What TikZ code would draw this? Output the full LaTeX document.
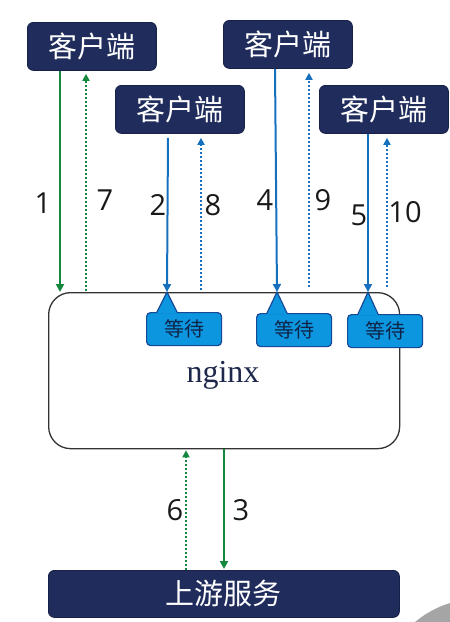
\documentclass[tikz,border=0pt]{standalone}
\usepackage{fontspec}
\setmainfont{Liberation Serif}
\newfontfamily\cjk{Noto Sans CJK SC}
\newfontfamily\numf{Open Sans}
\usetikzlibrary{arrows.meta}
\definecolor{navy}{RGB}{31,44,92}
\definecolor{navyb}{RGB}{22,32,72}
\definecolor{wfill}{RGB}{12,150,224}
\definecolor{wborder}{RGB}{22,72,150}
\definecolor{gline}{RGB}{22,135,62}
\definecolor{bline}{RGB}{22,112,190}
\definecolor{wtext}{RGB}{16,36,72}
\definecolor{ngtext}{RGB}{30,40,75}
\definecolor{artgray}{RGB}{165,165,165}
\begin{document}
\begin{tikzpicture}[x=1pt,y=-1pt,
  client/.style={draw=navyb, fill=navy, rounded corners=6pt, line width=0.8pt,
    minimum width=129pt, minimum height=48pt, inner sep=0pt, anchor=north west,
    text=white, font=\cjk\fontsize{29}{32}\selectfont},
  upstream/.style={client, minimum width=351pt, minimum height=47pt},
  waitbox/.style={draw=wborder, fill=wfill, rounded corners=4pt, line width=1.2pt,
    minimum width=75pt, minimum height=33pt, inner sep=0pt, anchor=north west,
    text=wtext, font=\cjk\fontsize{20}{22}\selectfont},
  ngbox/.style={draw=black!80, line width=1.3pt, rounded corners=22pt,
    minimum width=351pt, minimum height=156pt, inner sep=0pt, anchor=north west},
  lbl/.style={text=black!90, inner sep=0pt, font=\numf\fontsize{29}{32}\selectfont},
  tipa/.style={-{Triangle[width=8pt,length=8pt]}},
  tipb/.style={-{Triangle[width=7pt,length=7pt]}},
  gsolid/.style={draw=gline, line width=2pt, tipa},
  gdot/.style={draw=gline, line width=2pt, dash pattern=on 2pt off 2pt, tipb},
  bsolid/.style={draw=bline, line width=2pt, tipa},
  bdot/.style={draw=bline, line width=2pt, dash pattern=on 2pt off 2pt, tipb}
]
\useasboundingbox (0,0) rectangle (450,622);
\begin{scope}
  \clip (0,0) rectangle (450,622);
  \fill[artgray] (480,700) circle[radius=101.5pt];
\end{scope}

% clients
\node[client] (c1) at (27,22) {客户端};
\node[client] (c2) at (115,85) {客户端};
\node[client] (c3) at (223,20) {客户端};
\node[client] (c4) at (319,85) {客户端};

% nginx
\node[ngbox] (ng) at (48,292) {};
\node[anchor=base, inner sep=0pt, text=ngtext, font=\fontsize{32}{34}\selectfont] (ngl) at (223,382) {nginx};

% upstream
\node[upstream] (up) at (48,570) {上游服务};

% wait callouts
\node[waitbox] (w1) at (146,312) {等待};
\node[waitbox] (w2) at (256,313) {等待};
\node[waitbox] (w3) at (347,314) {等待};
\coordinate (t1) at (167,292);
\coordinate (t2) at (277,292);
\coordinate (t3) at (368,292);
\foreach \w/\t in {w1/t1, w2/t2, w3/t3}{
  \fill[wfill] ([xshift=11pt,yshift=-1.2pt]\w.north west) -- (\t) -- ([xshift=31pt,yshift=-1.2pt]\w.north west) -- cycle;
  \draw[wborder, line width=1.2pt, line join=round] ([xshift=11pt]\w.north west) -- (\t) -- ([xshift=31pt]\w.north west);
}

% client arrows
\draw[gsolid] ([xshift=33pt]c1.south west) -- ([xshift=12pt]ng.north west);
\draw[gdot] ([xshift=38pt,yshift=1pt]ng.north west) -- ([xshift=59pt,yshift=-3pt]c1.south west);
\draw[bsolid] ([xshift=53pt,yshift=-4pt]c2.south west) -- (t1);
\draw[bdot] ([xshift=153pt,yshift=2pt]ng.north west) -- ([xshift=86pt,yshift=-4pt]c2.south west);
\draw[bsolid] ([xshift=52pt]c3.south west) -- (t2);
\draw[bdot] ([xshift=261pt,yshift=5pt]ng.north west) -- ([xshift=86pt,yshift=-4pt]c3.south west);
\draw[bsolid] ([xshift=49pt]c4.south west) -- (t3);
\draw[bdot] ([xshift=339pt,yshift=5pt]ng.north west) -- ([xshift=68pt,yshift=-4pt]c4.south west);

% upstream arrows
\draw[gdot] ([xshift=138pt]up.north west) -- ([xshift=138pt,yshift=-1pt]ng.south west);
\draw[gsolid] ([xshift=176pt]ng.south west) -- ([xshift=176pt,yshift=1pt]up.north west);

% labels
\node[lbl] (n1) at (43,203) {1};
\node[lbl] (n7) at (105,200) {7};
\node[lbl] (n2) at (158,205) {2};
\node[lbl] (n8) at (213,205) {8};
\node[lbl] (n4) at (265,200) {4};
\node[lbl] (n9) at (323,200) {9};
\node[lbl] (n5) at (359,215) {5};
\node[lbl] (n10) at (405,212) {10};
\node[lbl] (n6) at (175,510) {6};
\node[lbl] (n3) at (241,510) {3};
\end{tikzpicture}
\end{document}
